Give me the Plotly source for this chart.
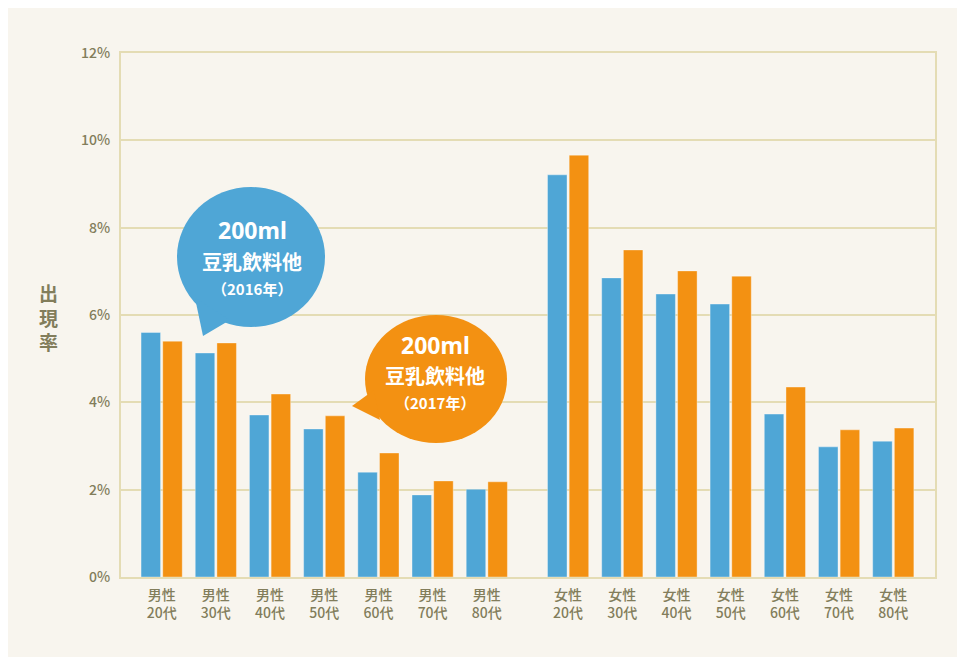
import plotly.graph_objects as go

# ---- data ----
male_labels = ["男性<br>20代", "男性<br>30代", "男性<br>40代", "男性<br>50代", "男性<br>60代", "男性<br>70代", "男性<br>80代"]
female_labels = ["女性<br>20代", "女性<br>30代", "女性<br>40代", "女性<br>50代", "女性<br>60代", "女性<br>70代", "女性<br>80代"]
labels = male_labels + female_labels
y2016 = [5.6, 5.13, 3.71, 3.39, 2.40, 1.88, 2.01, 9.21, 6.85, 6.48, 6.25, 3.73, 2.98, 3.11]
y2017 = [5.4, 5.36, 4.19, 3.69, 2.84, 2.20, 2.18, 9.66, 7.49, 7.01, 6.89, 4.35, 3.37, 3.41]
ytick_vals = [0, 2, 4, 6, 8, 10, 12]
ytick_text = ["0%", "2%", "4%", "6%", "8%", "10%", "12%"]
bubble_lines_2016 = ["200ml", "豆乳飲料他", "（2016年）"]
bubble_lines_2017 = ["200ml", "豆乳飲料他", "（2017年）"]

# ---- layout helpers ----
W, H = 957, 657
L, R, T, B = 121, 22, 53, 80
pw, ph = W - L - R, H - T - B
GAP = 0.5  # extra spacing between male and female groups
pos = [i for i in range(7)] + [7 + GAP + i for i in range(7)]

def px(x):
    return (x - L) / pw

def py(y):
    return (H - B - y) / ph

BLUE = "#4fa6d6"
ORANGE = "#f39112"
TXT = "#827d5b"
GRID = "#e4dcb4"
CREAM = "#f8f5ee"
FONT = "Noto Sans CJK JP"

fig = go.Figure()
fig.add_trace(go.Bar(x=pos, y=y2016, name="2016", marker=dict(color=BLUE, line=dict(color="rgba(255,255,255,0.35)", width=1)),
                     offset=-0.38, width=0.36))
fig.add_trace(go.Bar(x=pos, y=y2017, name="2017", marker=dict(color=ORANGE, line=dict(color="rgba(255,255,255,0.35)", width=1)),
                     offset=0.02, width=0.36))

shapes = [
    dict(type="rect", xref="paper", yref="paper", x0=px(8), x1=px(W + 5), y0=py(8), y1=py(H + 5),
         fillcolor=CREAM, line=dict(width=0), layer="below"),
    # blue bubble
    dict(type="circle", xref="paper", yref="paper", x0=px(177), x1=px(325), y0=py(187), y1=py(327),
         fillcolor=BLUE, line=dict(width=0), layer="above"),
    dict(type="path", xref="paper", yref="paper",
         path=f"M {px(195)},{py(298)} L {px(203)},{py(336)} L {px(230)},{py(320)} Z",
         fillcolor=BLUE, line=dict(width=0), layer="above"),
    # orange bubble
    dict(type="circle", xref="paper", yref="paper", x0=px(365), x1=px(507), y0=py(315), y1=py(443),
         fillcolor=ORANGE, line=dict(width=0), layer="above"),
    dict(type="path", xref="paper", yref="paper",
         path=f"M {px(374)},{py(390)} L {px(352)},{py(406)} L {px(380)},{py(420)} Z",
         fillcolor=ORANGE, line=dict(width=0), layer="above"),
]

annotations = [
    dict(text="<b>出<br>現<br>率</b>", x=px(48), y=py(317), xref="paper", yref="paper", showarrow=False,
         font=dict(family=FONT, size=19, color=TXT), xanchor="center", yanchor="middle"),
]

def bubble_text(lines, cx, ys):
    fonts = [("Noto Sans", 23), (FONT, 20), (FONT, 15)]
    for line, y, (fam, size) in zip(lines, ys, fonts):
        annotations.append(dict(text="<b>" + line + "</b>", x=px(cx), y=py(y), xref="paper", yref="paper",
                                showarrow=False, font=dict(family=fam, size=size, color="white"),
                                xanchor="center", yanchor="middle", borderpad=0))

bubble_text(bubble_lines_2016, 252, [230, 261, 288])
bubble_text(bubble_lines_2017, 435, [345, 375, 402])

fig.update_layout(
    width=W, height=H,
    margin=dict(l=L, r=R, t=T, b=B, pad=0),
    paper_bgcolor="white",
    plot_bgcolor="rgba(0,0,0,0)",
    showlegend=False,
    barmode="overlay",
    shapes=shapes,
    annotations=annotations,
    font=dict(family=FONT, color=TXT),
    xaxis=dict(range=[-0.75, 14.27], tickvals=pos, ticktext=labels, showgrid=False, zeroline=False,
               showline=True, mirror=True, linecolor=GRID, linewidth=2, ticks="outside", ticklen=4,
               tickcolor="rgba(0,0,0,0)", tickfont=dict(family=FONT, size=14, color=TXT, weight=500)),
    yaxis=dict(range=[0, 12], tickvals=ytick_vals, ticktext=ytick_text, showgrid=True, gridcolor=GRID,
               gridwidth=1.5, zeroline=False, showline=True, mirror=True, linecolor=GRID, linewidth=2,
               ticks="outside", ticklen=6, tickcolor="rgba(0,0,0,0)",
               tickfont=dict(family=FONT, size=14, color=TXT, weight=500)),
)

fig.write_html("out.html")
